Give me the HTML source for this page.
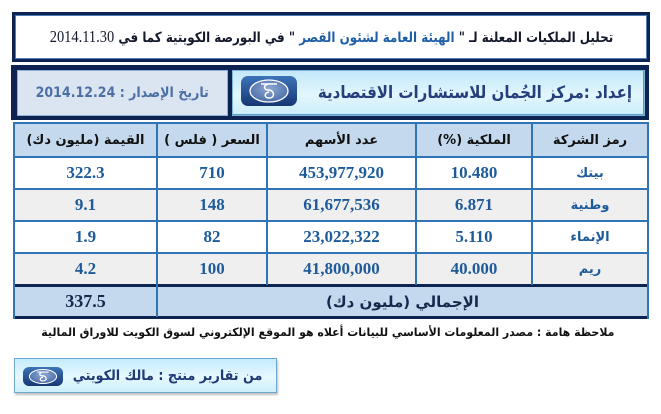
<!DOCTYPE html>
<html><head><meta charset="utf-8">
<style>
*{margin:0;padding:0;box-sizing:border-box}
body{width:661px;height:414px;background:#fff;position:relative;overflow:hidden;font-family:"DejaVu Sans","Liberation Sans",sans-serif;}
.a{position:absolute}
.ar{font-family:"DejaVu Sans","Liberation Sans",sans-serif;font-weight:bold;white-space:nowrap}
.num{font-family:"Liberation Serif",serif;font-weight:bold;white-space:nowrap}
.c{display:flex;align-items:center;justify-content:center}
.h{background:#2f74b5}
.hd{color:#111;font-size:13px}
.d{color:#1e5b9a;font-size:17px}
.dn{color:#1e5b9a;font-size:13px}
.s{display:inline-block;white-space:nowrap}
.r{position:absolute;right:0;top:0;white-space:nowrap;transform-origin:right center}
</style></head><body>

<!-- Title box -->
<div class="a" style="left:12px;top:12px;width:638px;height:50px;border:3px solid #0d2452;box-shadow:inset 0 0 0 1px #4f7fb8;background:#fff"></div>
<div class="a c ar" style="left:15px;top:15px;width:632px;height:44px;font-size:14px;color:#14182b"><span class="s" dir="rtl" style="transform:scaleX(0.85);transform-origin:center">تحليل الملكيات المعلنة لـ "&nbsp;<span style="color:#1f5fa8">الهيئة العامة لشئون القصر</span>&nbsp;" في البورصة الكويتية كما في <span class="num" style="font-weight:normal;font-size:17px;color:#14182b">2014.11.30</span></span></div>

<!-- Box 2 -->
<div class="a" style="left:11px;top:65px;width:638px;height:55px;background:#0d2452"></div>
<div class="a" style="left:17px;top:70px;width:211px;height:46px;background:#dbe5f1;border:1px solid #8fb0d6"></div>
<div class="a c ar" style="left:17px;top:70px;width:211px;height:46px;font-size:14px;color:#4b6fa6"><span class="s" dir="ltr" style="transform:scaleX(0.9)">2014.12.24 : <span dir="rtl">تاريخ الإصدار</span></span></div>
<div class="a" style="left:232px;top:70px;width:413px;height:46px;background:linear-gradient(#c3e8f9,#e2f6fd 55%,#cbedfa);border:1px solid #7fb6d8;box-shadow:inset -1px -1px 0 #5e9cc8"></div>
<div class="a ar" style="left:300px;top:80px;width:332px;height:26px;font-size:17px;line-height:26px;color:#243f7a"><span class="r" dir="rtl" style="transform:scaleX(0.885)">إعداد :مركز الجُمان للاستشارات الاقتصادية</span></div>
<!-- logo -->
<svg class="a" style="left:241px;top:76px" width="56" height="30" viewBox="0 0 56 30">
<defs><linearGradient id="lg" x1="0" y1="0" x2="0" y2="1"><stop offset="0" stop-color="#3d73b8"/><stop offset="1" stop-color="#163874"/></linearGradient>
<radialGradient id="el" cx="0.5" cy="0.4" r="0.6"><stop offset="0" stop-color="#8fa9d2"/><stop offset="1" stop-color="#4a6ea8"/></radialGradient></defs>
<rect x="0" y="0" width="56" height="30" rx="7" fill="url(#lg)"/>
<ellipse cx="28" cy="15" rx="19" ry="11" fill="url(#el)" stroke="#fff" stroke-width="1.3"/>
<path d="M20 8 L36 8 M28 8 C22 9 22 14 28 14 C34 15 34 22 28 22 C23 22 23 17 28 16" fill="none" stroke="#fff" stroke-width="1.5"/>
</svg>

<!-- Table backgrounds -->
<div class="a" style="left:13px;top:122px;width:636px;height:35px;background:#c5d9ee"></div>
<div class="a" style="left:13px;top:157px;width:636px;height:32px;background:#fff"></div>
<div class="a" style="left:13px;top:189px;width:636px;height:32px;background:#efefef"></div>
<div class="a" style="left:13px;top:221px;width:636px;height:32px;background:#fff"></div>
<div class="a" style="left:13px;top:253px;width:636px;height:32px;background:#efefef"></div>
<div class="a" style="left:13px;top:287px;width:636px;height:30px;background:#c5d9ee"></div>

<!-- horizontal lines -->
<div class="a h" style="left:13px;top:122px;width:636px;height:2px"></div>
<div class="a h" style="left:13px;top:156px;width:636px;height:2px"></div>
<div class="a h" style="left:13px;top:188px;width:636px;height:2px"></div>
<div class="a h" style="left:13px;top:220px;width:636px;height:2px"></div>
<div class="a h" style="left:13px;top:252px;width:636px;height:2px"></div>
<div class="a" style="left:13px;top:284px;width:636px;height:3px;background:#0d2452"></div>
<div class="a" style="left:13px;top:316px;width:636px;height:3px;background:#0d2452"></div>
<!-- vertical lines -->
<div class="a h" style="left:13px;top:122px;width:2px;height:197px"></div>
<div class="a h" style="left:647px;top:122px;width:2px;height:197px"></div>
<div class="a h" style="left:156px;top:122px;width:2px;height:195px"></div>
<div class="a h" style="left:266px;top:122px;width:2px;height:163px"></div>
<div class="a h" style="left:415px;top:122px;width:2px;height:163px"></div>
<div class="a h" style="left:531px;top:122px;width:2px;height:163px"></div>

<!-- header text -->
<div class="a c ar hd" dir="rtl" style="left:15px;top:124px;width:141px;height:32px">القيمة (مليون دك)</div>
<div class="a c ar hd" dir="rtl" style="left:158px;top:124px;width:108px;height:32px">السعر ( فلس )</div>
<div class="a c ar hd" dir="rtl" style="left:268px;top:124px;width:147px;height:32px">عدد الأسهم</div>
<div class="a c ar hd" dir="rtl" style="left:417px;top:124px;width:114px;height:32px">الملكية (%)</div>
<div class="a c ar hd" dir="rtl" style="left:533px;top:124px;width:114px;height:32px">رمز الشركة</div>

<!-- rows -->
<div class="a c num d" style="left:15px;top:158px;width:141px;height:30px">322.3</div>
<div class="a c num d" style="left:158px;top:158px;width:108px;height:30px">710</div>
<div class="a c num d" style="left:268px;top:158px;width:147px;height:30px">453,977,920</div>
<div class="a c num d" style="left:417px;top:158px;width:114px;height:30px">10.480</div>
<div class="a c ar dn" dir="rtl" style="left:533px;top:158px;width:114px;height:30px">بيتك</div>

<div class="a c num d" style="left:15px;top:190px;width:141px;height:30px">9.1</div>
<div class="a c num d" style="left:158px;top:190px;width:108px;height:30px">148</div>
<div class="a c num d" style="left:268px;top:190px;width:147px;height:30px">61,677,536</div>
<div class="a c num d" style="left:417px;top:190px;width:114px;height:30px">6.871</div>
<div class="a c ar dn" dir="rtl" style="left:533px;top:190px;width:114px;height:30px">وطنية</div>

<div class="a c num d" style="left:15px;top:222px;width:141px;height:30px">1.9</div>
<div class="a c num d" style="left:158px;top:222px;width:108px;height:30px">82</div>
<div class="a c num d" style="left:268px;top:222px;width:147px;height:30px">23,022,322</div>
<div class="a c num d" style="left:417px;top:222px;width:114px;height:30px">5.110</div>
<div class="a c ar dn" dir="rtl" style="left:533px;top:222px;width:114px;height:30px">الإنماء</div>

<div class="a c num d" style="left:15px;top:254px;width:141px;height:30px">4.2</div>
<div class="a c num d" style="left:158px;top:254px;width:108px;height:30px">100</div>
<div class="a c num d" style="left:268px;top:254px;width:147px;height:30px">41,800,000</div>
<div class="a c num d" style="left:417px;top:254px;width:114px;height:30px">40.000</div>
<div class="a c ar dn" dir="rtl" style="left:533px;top:254px;width:114px;height:30px">ريم</div>

<!-- total -->
<div class="a c num" style="left:15px;top:287px;width:141px;height:29px;font-size:18px;color:#17284d">337.5</div>
<div class="a c ar" dir="rtl" style="left:158px;top:287px;width:489px;height:29px;font-size:15px;color:#17284d">الإجمالي (مليون دك)</div>

<!-- footnote -->
<div class="a ar" style="left:20px;top:324px;width:594px;height:16px;font-size:11.5px;line-height:16px;color:#111"><span class="r" dir="rtl" style="transform:scaleX(0.953);line-height:16px">ملاحظة هامة : مصدر المعلومات الأساسي للبيانات أعلاه هو الموقع الإلكتروني لسوق الكويت للاوراق المالية</span></div>

<!-- footer badge -->
<div class="a" style="left:14px;top:358px;width:263px;height:35px;background:linear-gradient(#c5ecfb,#e6f8fe 55%,#cdeffb);border:1px solid #6fa8cf;box-shadow:1px 2px 2px rgba(0,0,0,0.25)"></div>
<svg class="a" style="left:23px;top:367px" width="40" height="19" viewBox="0 0 56 30" preserveAspectRatio="none">
<rect x="0" y="0" width="56" height="30" rx="9" fill="url(#lg)"/>
<ellipse cx="28" cy="15" rx="19" ry="11" fill="url(#el)" stroke="#fff" stroke-width="1.5"/>
<path d="M20 8 L36 8 M28 8 C22 9 22 14 28 14 C34 15 34 22 28 22 C23 22 23 17 28 16" fill="none" stroke="#fff" stroke-width="1.8"/>
</svg>
<div class="a ar" style="left:66px;top:366px;width:196px;height:20px;font-size:14px;line-height:20px;color:#1f3a75"><span class="r" dir="rtl" style="transform:scaleX(0.91);line-height:20px">من تقارير منتج : مالك الكويتي</span></div>

</body></html>
